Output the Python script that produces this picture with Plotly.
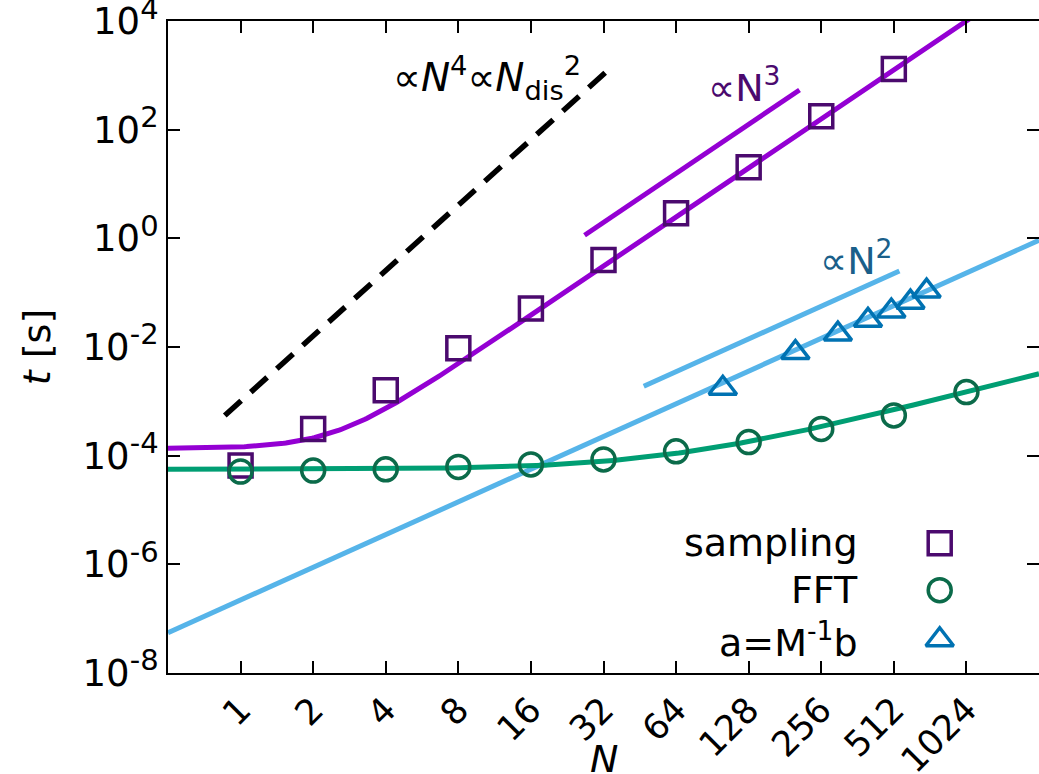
import numpy as np
import plotly.graph_objects as go

# ---------------- data ----------------
N_sampling = [1, 2, 4, 8, 16, 32, 64, 128, 256, 512]
t_sampling = [6.6e-5, 3.1e-4, 1.6e-3, 9.5e-3, 0.051, 0.40, 2.9, 20.4, 178, 1310]

N_fft = [1, 2, 4, 8, 16, 32, 64, 128, 256, 512, 1024]
t_fft = [5.1e-5, 5.3e-5, 5.6e-5, 6.2e-5, 6.9e-5, 8.5e-5, 1.2e-4, 1.78e-4, 3.1e-4, 5.5e-4, 1.48e-3]

N_solve = [100, 200, 300, 400, 500, 600, 700]
t_solve = [1.74e-3, 7.9e-3, 0.0173, 0.031, 0.046, 0.067, 0.107]

# fit parameters (t = a + b*N^3 ; t = a + b*N*log2 N)
samp_fit_a, samp_fit_b = 1.36e-4, 9.4e-6
fft_fit_a, fft_fit_b = 5.6e-5, 1.4e-7

# guide lines: prefactor and N range
guide4_c, guide4_N = 1.0e-3, [0.86, 34]
guide3_c, guide3_N = 6.0e-5, [26.7, 208]
guide2s_c, guide2s_N = 8.6e-7, [47, 540]
guide2l_c, guide2l_N = 2.2e-7, [0.5, 2048]

x_ticks = [1, 2, 4, 8, 16, 32, 64, 128, 256, 512, 1024]
x_ticktext = [str(v) for v in x_ticks]
y_exps = [-8, -6, -4, -2, 0, 2, 4]
y_ticks = [10.0 ** e for e in y_exps]
y_ticktext = ["10<sup><span style='font-size:29px'>%d</span></sup>" % e for e in y_exps]

legend_labels = ["sampling", "FFT", "a=M<sup>-1</sup>b"]

# ---------------- styles ----------------
FONT = "DejaVu Sans"
c_samp_line = "#9400D3"
c_samp_mark = "#4B0A6E"
c_fft_line = "#009E73"
c_fft_mark = "#0B6B4A"
c_sol_mark = "#0072B2"
c_n2_line = "#56B4E9"
c_n2_text = "#1A5F8A"

fig = go.Figure()

Nfit = np.geomspace(0.5, 2048, 400)
samp_fit = samp_fit_a + samp_fit_b * Nfit ** 3
fft_fit = fft_fit_a + fft_fit_b * Nfit * np.log2(Nfit)

def guide(c, nr, p):
    n = np.array(nr, dtype=float)
    return n, c * n ** p

# guide lines
gx, gy = guide(guide2l_c, guide2l_N, 2)
fig.add_trace(go.Scatter(x=gx, y=gy, mode="lines", line=dict(color=c_n2_line, width=5), showlegend=False))
gx, gy = guide(guide2s_c, guide2s_N, 2)
fig.add_trace(go.Scatter(x=gx, y=gy, mode="lines", line=dict(color=c_n2_line, width=5), showlegend=False))
gx, gy = guide(guide3_c, guide3_N, 3)
fig.add_trace(go.Scatter(x=gx, y=gy, mode="lines", line=dict(color=c_samp_line, width=5), showlegend=False))
gx, gy = guide(guide4_c, guide4_N, 4)
fig.add_trace(go.Scatter(x=gx, y=gy, mode="lines", line=dict(color="black", width=5.5, dash="22px,13px"), showlegend=False))

# fits
fig.add_trace(go.Scatter(x=Nfit, y=samp_fit, mode="lines", line=dict(color=c_samp_line, width=5), showlegend=False))
fig.add_trace(go.Scatter(x=Nfit, y=fft_fit, mode="lines", line=dict(color=c_fft_line, width=5), showlegend=False))

# data points
fig.add_trace(go.Scatter(x=N_sampling, y=t_sampling, mode="markers",
                         marker=dict(symbol="square-open", size=23, color=c_samp_mark, line=dict(width=3.5)),
                         showlegend=False))
fig.add_trace(go.Scatter(x=N_fft, y=t_fft, mode="markers",
                         marker=dict(symbol="circle-open", size=23, color=c_fft_mark, line=dict(width=3.5)),
                         showlegend=False))
fig.add_trace(go.Scatter(x=N_solve, y=t_solve, mode="markers",
                         marker=dict(symbol="triangle-up-open", size=24, color=c_sol_mark, line=dict(width=3.5)),
                         showlegend=False))

# manual legend (symbol to the right of text)
leg_y = [0.199, 0.127, 0.051]
leg_sym = ["square-open", "circle-open", "triangle-up-open"]
leg_col = [c_samp_mark, c_fft_mark, c_sol_mark]
leg_size = [23, 23, 24]
for yy, sym, col, sz in zip(leg_y, leg_sym, leg_col, leg_size):
    fig.add_trace(go.Scatter(x=[0.886], y=[yy], xaxis="x2", yaxis="y2", mode="markers",
                             marker=dict(symbol=sym, size=sz, color=col, line=dict(width=3.5)),
                             showlegend=False))
annotations = []
for yy, lab in zip(leg_y, legend_labels):
    annotations.append(dict(x=0.794, y=yy, xref="paper", yref="paper", text=lab, showarrow=False,
                            xanchor="right", yanchor="middle", font=dict(family=FONT, size=38, color="black")))

annotations.append(dict(x=0.366, y=0.913, xref="paper", yref="paper",
                        text="∝<i>N</i><sup>4</sup>∝<i>N</i><sub>dis</sub><sup>2</sup>",
                        showarrow=False, xanchor="center", yanchor="middle",
                        font=dict(family=FONT, size=39, color="black")))
annotations.append(dict(x=0.662, y=0.902, xref="paper", yref="paper", text="∝N<sup>3</sup>",
                        showarrow=False, xanchor="center", yanchor="middle",
                        font=dict(family=FONT, size=38, color=c_samp_mark)))
annotations.append(dict(x=0.791, y=0.636, xref="paper", yref="paper", text="∝N<sup>2</sup>",
                        showarrow=False, xanchor="center", yanchor="middle",
                        font=dict(family=FONT, size=38, color=c_n2_text)))
# x-axis title placed below rotated tick labels
annotations.append(dict(x=0.5, y=-0.132, xref="paper", yref="paper", text="<i>N</i>",
                        showarrow=False, xanchor="center", yanchor="middle",
                        font=dict(family=FONT, size=38, color="black")))

fig.update_layout(
    width=1039, height=774,
    margin=dict(l=168, r=0, t=21, b=101),
    plot_bgcolor="white", paper_bgcolor="white",
    font=dict(family=FONT, size=36, color="black"),
    annotations=annotations,
    xaxis=dict(type="log", range=[np.log10(0.5), np.log10(2048)],
               tickvals=x_ticks, ticktext=x_ticktext, tickangle=-45,
               ticks="inside", ticklen=12, tickwidth=1.5, tickcolor="black",
               showline=True, linecolor="black", linewidth=2, mirror="ticks",
               showgrid=False, zeroline=False, automargin=False,
               ticklabeloverflow="allow",
               tickfont=dict(family=FONT, size=35)),
    yaxis=dict(type="log", range=[-8.002, 4.002],
               tickvals=y_ticks, ticktext=y_ticktext,
               ticks="inside", ticklen=12, tickwidth=1.5, tickcolor="black",
               showline=True, linecolor="black", linewidth=2, mirror="ticks",
               showgrid=False, zeroline=False, automargin=False,
               ticklabeloverflow="allow",
               tickfont=dict(family=FONT, size=37),
               title=dict(text="<i>t</i> [s]", font=dict(family=FONT, size=38), standoff=20)),
    xaxis2=dict(overlaying="x", range=[0, 1], visible=False, domain=[0, 1]),
    yaxis2=dict(overlaying="y", range=[0, 1], visible=False, domain=[0, 1]),
    showlegend=False,
)

fig.write_html("out.html")
